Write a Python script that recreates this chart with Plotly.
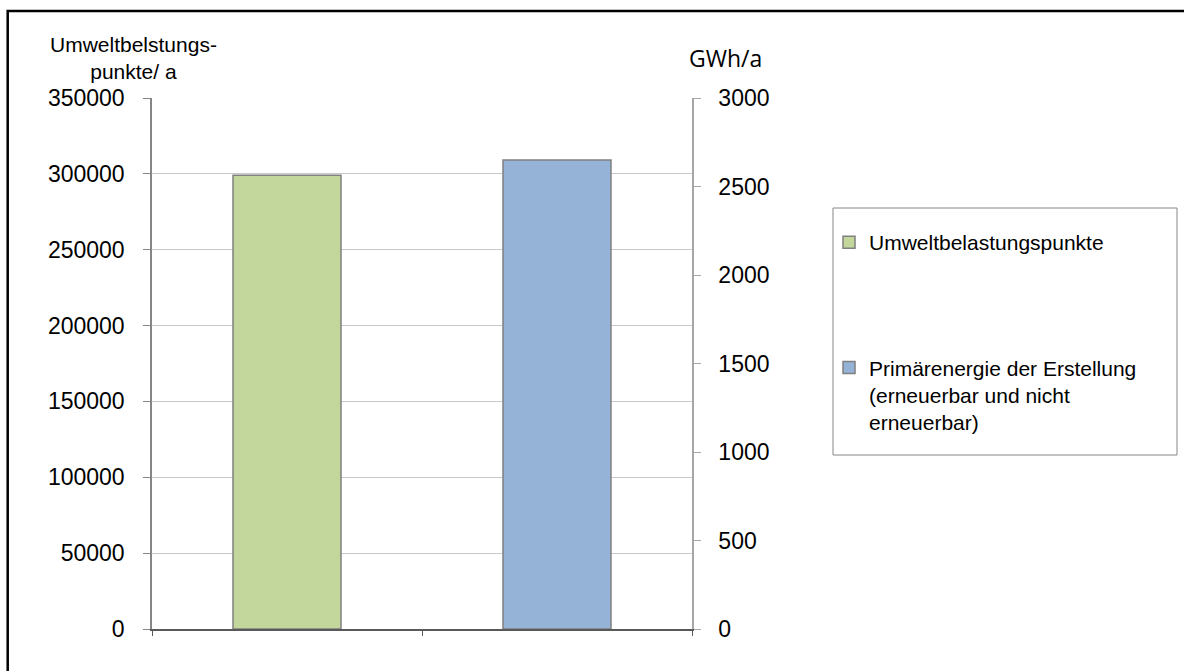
import plotly.graph_objects as go

# Series: one bar per quantity, each on its own y axis
series_names = [
    "Umweltbelastungspunkte",
    "Primärenergie der Erstellung<br>(erneuerbar und nicht<br>erneuerbar)",
]
category_pos = [1, 2]
umwelt_values = [299000]        # Umweltbelastungspunkte / a (left axis)
primaer_values = [2650]         # GWh/a (right axis)

left_ticks = [0, 50000, 100000, 150000, 200000, 250000, 300000, 350000]
right_ticks = [0, 500, 1000, 1500, 2000, 2500, 3000]

W, H = 1184, 671
L, R, T, B = 152, 692, 98, 629


def px_x(p):
    return (p - L) / (R - L)


def px_y(p):
    return (B - p) / (B - T)


FONT = "Liberation Sans, Arial, sans-serif"

fig = go.Figure()
fig.add_trace(go.Bar(
    x=[category_pos[0]], y=umwelt_values, name=series_names[0],
    width=0.4, yaxis="y", legendgroup="a",
    marker=dict(color="#c3d69b", line=dict(color="#808080", width=1.5)),
))
fig.add_trace(go.Bar(
    x=[category_pos[1]], y=primaer_values, name=series_names[1],
    width=0.4, yaxis="y2", legendgroup="b",
    marker=dict(color="#95b3d7", line=dict(color="#808080", width=1.5)),
))

fig.update_layout(
    width=W, height=H,
    margin=dict(l=L, r=W - R, t=T, b=H - B, pad=0),
    paper_bgcolor="white", plot_bgcolor="white",
    barmode="overlay",
    font=dict(family=FONT, size=21, color="#000000"),
    xaxis=dict(
        range=[0.5, 2.5], tickvals=[0.5, 1.5, 2.5], showticklabels=False,
        ticks="outside", ticklen=5, tickcolor="#595959",
        showline=True, linecolor="#595959", linewidth=1.5,
        showgrid=False, zeroline=False, fixedrange=True,
    ),
    yaxis=dict(
        range=[0, 350000], tickvals=left_ticks,
        ticktext=[str(v) for v in left_ticks],
        ticks="outside", ticklen=7, tickcolor="#868686",
        showline=True, linecolor="#868686", linewidth=1.5,
        showgrid=True, gridcolor="#c8c8c8", gridwidth=1,
        zeroline=False, ticklabelstandoff=14,
        tickfont=dict(family=FONT, size=23),
    ),
    yaxis2=dict(
        range=[0, 3000], tickvals=right_ticks,
        ticktext=[str(v) for v in right_ticks],
        overlaying="y", side="right",
        ticks="outside", ticklen=7, tickcolor="#a6a6a6",
        showline=True, linecolor="#a6a6a6", linewidth=1.5,
        showgrid=False, zeroline=False, ticklabelstandoff=13,
        tickfont=dict(family=FONT, size=23),
    ),
    legend=dict(
        x=px_x(829), y=px_y(222), xanchor="left", yanchor="top",
        bgcolor="rgba(0,0,0,0)", borderwidth=0,
        traceorder="grouped", tracegroupgap=95, valign="top",
        font=dict(family=FONT, size=21),
    ),
    showlegend=True,
)

# Axis titles
fig.add_annotation(
    x=px_x(133), y=px_y(58), xref="paper", yref="paper",
    text="Umweltbelstungs-<br>punkte/ a", showarrow=False,
    xanchor="center", yanchor="middle", align="center",
    font=dict(family=FONT, size=21),
)
fig.add_annotation(
    x=px_x(725), y=px_y(58), xref="paper", yref="paper",
    text="GWh/a", showarrow=False, xanchor="center", yanchor="middle",
    font=dict(family="Open Sans, sans-serif", size=23),
)

# Legend frame and outer chart frame
fig.add_shape(
    type="rect", xref="paper", yref="paper",
    x0=px_x(833), x1=px_x(1177), y0=px_y(455), y1=px_y(208),
    line=dict(color="#868686", width=1), fillcolor="rgba(0,0,0,0)",
)
fig.add_shape(
    type="rect", xref="paper", yref="paper",
    x0=px_x(7.7), x1=px_x(1300), y0=px_y(800), y1=px_y(11),
    line=dict(color="#000000", width=2.5), fillcolor="rgba(0,0,0,0)",
)

fig.write_html("out.html")
